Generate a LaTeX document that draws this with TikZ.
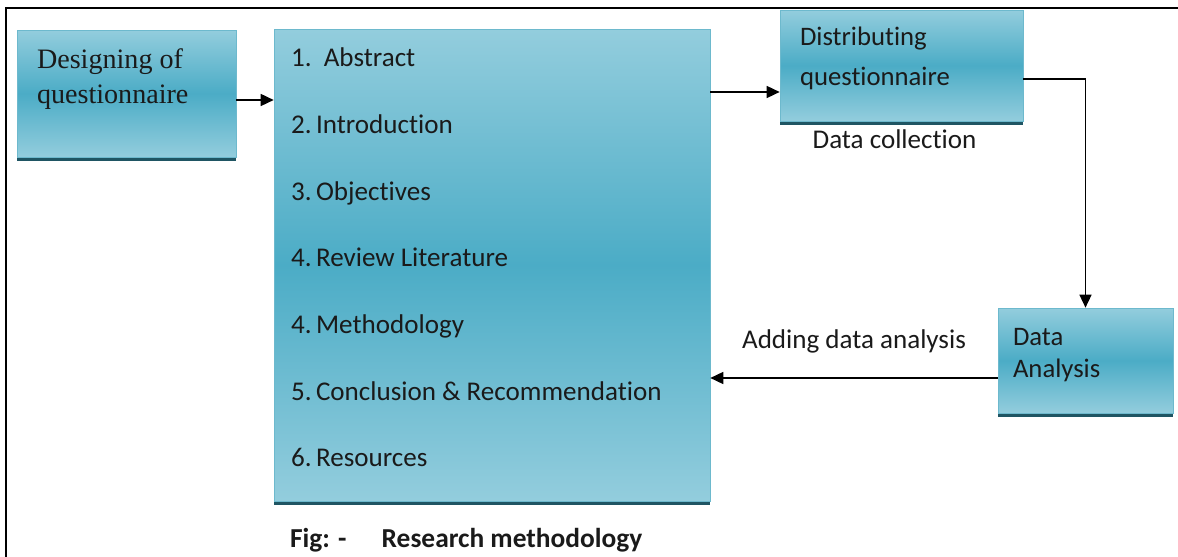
\documentclass[tikz,border=0pt]{standalone}
\usepackage{fontspec}
\setmainfont{Carlito}[Ligatures=CommonOff]
\newfontfamily\serifboxfont{Liberation Serif}
\usepackage{xcolor}
\usepackage{tikz}
\usetikzlibrary{arrows.meta, positioning, shadows}

\definecolor{boxlight}{HTML}{93CDDD}
\definecolor{boxmid}{HTML}{4BACC6}
\definecolor{boxrim}{HTML}{6DB9CD}
\definecolor{boxshade}{HTML}{1F5563}
\definecolor{inktext}{HTML}{1A1A1A}

\tikzstyle{stage} = [rectangle, draw=boxrim, line width=0.4pt, top color=boxlight, bottom color=boxlight, middle color=boxmid, drop shadow={shadow xshift=0pt, shadow yshift=-2.2pt, fill=boxshade, opacity=1}, inner sep=0pt]
\tikzstyle{entry} = [inner sep=0pt, font=\fontsize{15.4}{19}\selectfont, text=inktext]
\tikzstyle{arrow} = [line width=0.9pt, -{Triangle[length=2.6mm, width=2.4mm]}]

\begin{document}
\begin{tikzpicture}[x=0.02cm, y=-0.02cm]
    \useasboundingbox (0,0) rectangle (1178,557);
    \draw[line width=1.1pt] (6,557) -- (6,8) -- (1178,8);

    % the four stages
    \node (design) [stage, minimum width=4.38cm, minimum height=2.54cm] at (126.5,93.5) {};
    \node (report) [stage, minimum width=8.72cm, minimum height=9.44cm] at (492,265) {};
    \node (distribute) [stage, minimum width=4.86cm, minimum height=2.22cm] at (901.5,65.5) {};
    \node (analysis) [stage, minimum width=3.5cm, minimum height=2.1cm] at (1085.5,360.5) {};

    \node (designtxt) [entry, font=\serifboxfont\fontsize{16}{19.8}\selectfont, align=left, anchor=north west] at ([xshift=0.4cm, yshift=-0.37cm]design.north west) {Designing of\\questionnaire};
    \node (distributetxt) [entry, font=\fontsize{15.2}{23.2}\selectfont, align=left, anchor=north west] at ([xshift=0.4cm, yshift=-0.33cm]distribute.north west) {Distributing\\questionnaire};
    \node (analysistxt) [entry, font=\fontsize{15.2}{18.7}\selectfont, align=left, anchor=north west] at ([xshift=0.3cm, yshift=-0.4cm]analysis.north west) {Data\\Analysis};

    % chapters of the report
    \foreach \txt [count=\i from 0] in {1.\ \ Abstract, 2.\,Introduction, 3.\,Objectives, 4.\,Review Literature, 4.\,Methodology, 5.\,Conclusion \& Recommendation, 6.\,Resources}
        \node (item\i) [entry, anchor=base west] at ([xshift=0.34cm, yshift={-0.76cm-\i*1.334cm}]report.north west) {\txt};

    % flow
    \coordinate (d1) at ([yshift=-0.13cm]design.east);
    \draw[arrow] (d1) -- (d1 -| report.west);
    \coordinate (r1) at ([yshift=-0.53cm]distribute.west);
    \draw[arrow] (r1 -| report.east) -- (r1);
    \draw[arrow] ([yshift=-0.27cm]distribute.east) -| (analysis.north);
    \coordinate (a1) at ([yshift=-0.35cm]analysis.west);
    \draw[arrow] (a1) -- node (addlbl) [entry, midway, anchor=base, yshift=0.6cm] {Adding data analysis} (a1 -| report.east);

    \node (collectlbl) [entry, anchor=base] at ([xshift=-0.14cm, yshift=-0.54cm]distribute.south) {Data collection};
    \node (figcap) [entry, font=\bfseries\fontsize{15.6}{19}\selectfont, anchor=base west] at ([xshift=0.32cm, yshift=-0.92cm]report.south west) {Fig: -\hspace{20pt}Research methodology};
\end{tikzpicture}
\end{document}
